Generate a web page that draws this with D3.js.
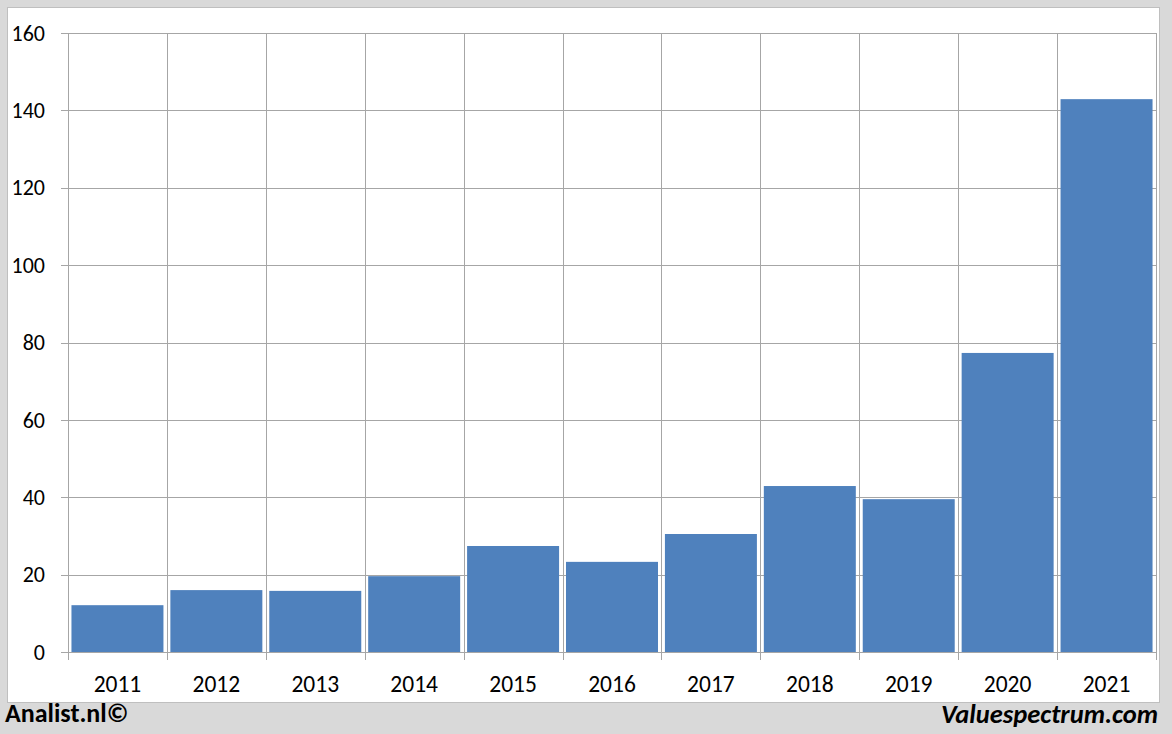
<!DOCTYPE html>
<html><head><meta charset="utf-8">
<script src="https://cdn.jsdelivr.net/npm/d3@7"></script>
<style>html,body{margin:0;padding:0;background:#d9d9d9;}svg{display:block;}</style>
</head><body>
<script>
const categories = ["2011","2012","2013","2014","2015","2016","2017","2018","2019","2020","2021"];
const values = [12.1, 16.0, 15.8, 19.6, 27.4, 23.3, 30.5, 42.9, 39.5, 77.3, 142.9];
const yTicks = [0,20,40,60,80,100,120,140,160];

const W = 1172, H = 734;
const m = {left: 68, right: 1156, top: 33, bottom: 652};
const font = "Carlito, 'Open Sans', 'Liberation Sans', sans-serif";

const svg = d3.select("body").append("svg").attr("width", W).attr("height", H);
svg.append("rect").attr("width", W).attr("height", H).attr("fill", "#d9d9d9");
svg.append("rect").attr("x", 7.5).attr("y", 7.5).attr("width", 1152).attr("height", 695)
  .attr("fill", "#fff").attr("stroke", "#bfbfbf").attr("stroke-width", 1);

const x = d3.scaleBand().domain(categories).range([m.left, m.right]).paddingInner(0.07).paddingOuter(0.035);
const xb = d3.scaleBand().domain(categories).range([m.left, m.right]);
const y = d3.scaleLinear().domain([0,160]).range([m.bottom, m.top]);

const grid = svg.append("g").attr("stroke", "#a6a6a6").attr("stroke-width", 1).attr("shape-rendering","crispEdges");
yTicks.forEach(t => {
  grid.append("line").attr("x1", m.left - 7).attr("x2", m.right).attr("y1", Math.round(y(t))+0.5).attr("y2", Math.round(y(t))+0.5);
});
const bounds = categories.map(c => xb(c)).concat([m.right]);
bounds.forEach(b => {
  grid.append("line").attr("x1", Math.round(b)+0.5).attr("x2", Math.round(b)+0.5).attr("y1", m.top).attr("y2", m.bottom + 8);
});

svg.append("g").selectAll("rect").data(values).join("rect")
  .attr("x", (d,i) => x(categories[i]))
  .attr("width", x.bandwidth())
  .attr("y", d => y(d))
  .attr("height", d => y(0) - y(d))
  .attr("fill", "#4f81bd");

svg.append("line").attr("x1", m.left - 7).attr("x2", m.right).attr("y1", Math.round(y(0))+0.5).attr("y2", Math.round(y(0))+0.5)
  .attr("stroke", "#a6a6a6").attr("shape-rendering","crispEdges");

svg.append("g").selectAll("text").data(yTicks).join("text")
  .attr("x", 45).attr("y", d => y(d)).attr("dy", "0.35em")
  .attr("text-anchor", "end").attr("font-family", font).attr("font-size", 22).attr("fill", "#000")
  .text(d => d);

svg.append("g").selectAll("text").data(categories).join("text")
  .attr("x", d => xb(d) + xb.bandwidth()/2).attr("y", 692)
  .attr("text-anchor", "middle").attr("font-family", font).attr("font-size", 23.5).attr("fill", "#000")
  .text(d => d);

svg.append("text").attr("x", 5).attr("y", 722).attr("font-family", font).attr("font-size", 26)
  .attr("font-weight", "bold").attr("fill", "#000").text("Analist.nl©");
svg.append("text").attr("x", 1158).attr("y", 723).attr("text-anchor", "end").attr("font-family", font).attr("font-size", 26.5)
  .attr("font-weight", "bold").attr("font-style", "italic").attr("fill", "#000").text("Valuespectrum.com");
</script>
</body></html>
